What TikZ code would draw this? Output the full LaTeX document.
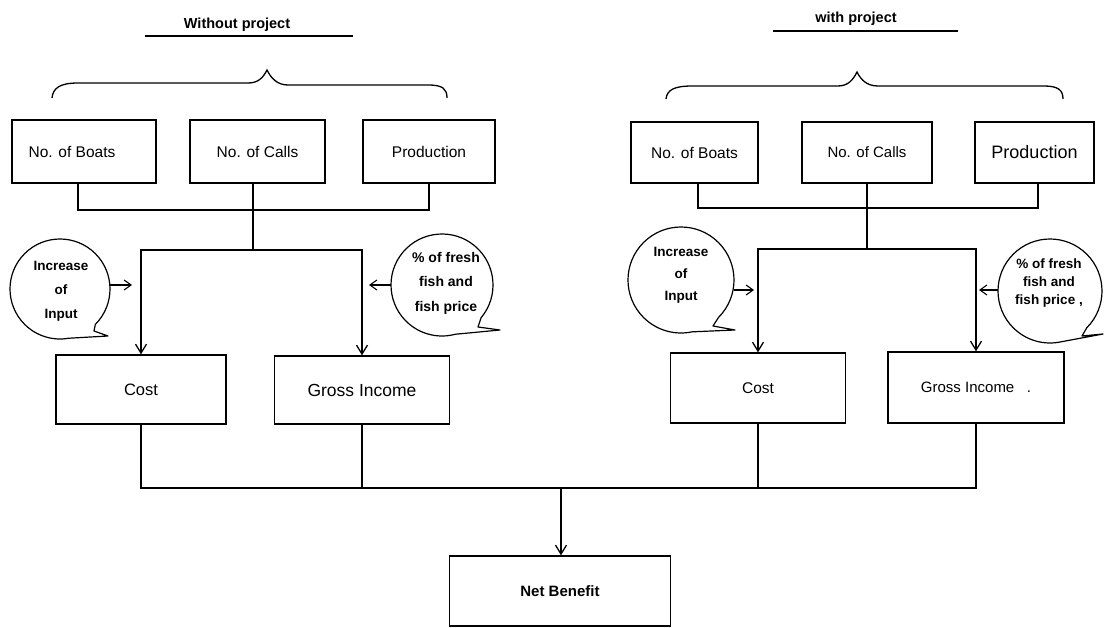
\documentclass[tikz,border=0pt]{standalone}
\usepackage{fontspec}
\setmainfont{Liberation Sans}
\usetikzlibrary{arrows.meta,calc}
\begin{document}
\begin{tikzpicture}[x=1pt,y=-1pt,
  box/.style n args={2}{draw, line width=1.3pt, inner sep=0pt, minimum width=#1pt, minimum height=#2pt, align=center},
  ln/.style={line width=1.3pt},
  arr/.style={line width=1.3pt, -{Straight Barb[length=9pt,width=11pt]}},
  sarr/.style={line width=1.1pt, -{Straight Barb[length=7pt,width=10pt]}},
  bub/.style={line width=1.2pt, line join=round},
  btxt/.style={align=center, inner sep=0pt, font=\bfseries\fontsize{13.5}{24}\selectfont},
  ttl/.style={inner sep=0pt, font=\bfseries\fontsize{14.5}{17}\selectfont}]
\useasboundingbox (0,0) rectangle (1104,628);
\fill[white] (0,0) rectangle (1104,628);

% ---------- titles ----------
\node[ttl] (tl) at (237,25) {Without project};
\draw[line width=1.1pt] (145,36) -- (353,36);
\node[ttl] (tr) at (856,19) {with project};
\draw[line width=1.1pt] (773,31) -- (958,31);

% ---------- braces ----------
\draw[line width=1.3pt] (52,98) .. controls (53,88) and (60,83) .. (78,83) -- (248,83)
  .. controls (258,83) and (263,78) .. (267,70) .. controls (271,78) and (277,85) .. (288,85)
  -- (428,85) .. controls (443,85) and (447,89) .. (447,98);
\draw[line width=1.3pt] (666,99) .. controls (667,90) and (674,86) .. (692,86) -- (838,86)
  .. controls (848,86) and (853,80) .. (857,72) .. controls (861,80) and (867,86) .. (878,86)
  -- (1044,86) .. controls (1058,86) and (1063,90) .. (1063,99);

% ---------- left (without project) ----------
\node[box={144}{63}, font=\fontsize{15.5}{18}\selectfont] (b1) at (84,151.5) {No. of Boats\hspace*{24pt}};
\node[box={135}{63}, font=\fontsize{15.5}{18}\selectfont] (b2) at (257.5,151.5) {No. of Calls};
\node[box={132}{63}, font=\fontsize{15.5}{18}\selectfont] (b3) at (429,151.5) {Production};
\node[box={170}{69}, font=\fontsize{16.5}{18}\selectfont] (c1) at (141,389.5) {Cost};
\node[box={175}{68}, font=\fontsize{17.5}{20}\selectfont] (g1) at (362,390) {Gross Income};

\coordinate (j1) at (253,210);
\coordinate (j2) at (253,250);
\draw[ln] ([xshift=-6pt]b1.south) |- (j1) -| (b3.south);
\draw[ln] ([xshift=-4.5pt]b2.south) -- (j2);
\draw[arr] (j2) -| (c1.north);
\draw[arr] (j2) -| (g1.north);

% bubble: Increase of Input (left)
\node[btxt] (i1) at (61,291) {Increase\\of\\Input};
\draw[bub] ($(60,289)+(45:50)$) arc[start angle=45, end angle=-280, radius=50] -- (108,336) -- (94,331) -- cycle;
\coordinate (s1) at (110,285);
\coordinate (t1) at (132,285);
\draw[sarr] (s1) -- (t1);

% bubble: % of fresh fish (left)
\node[btxt, font=\bfseries\fontsize{14}{24.5}\selectfont] (p1) at (446,283) {\% of fresh\\fish and\\fish price};
\draw[bub] ($(442,285)+(40:51)$) arc[start angle=40, end angle=-285, radius=51] -- (500,330) -- (478,327) -- cycle;
\coordinate (s2) at (391,285);
\coordinate (t2) at (369,285);
\draw[sarr] (s2) -- (t2);

% ---------- right (with project) ----------
\node[box={127}{61}, font=\fontsize{15.5}{18}\selectfont] (rb1) at (694.5,152.5) {No. of Boats};
\node[box={130}{61}, font=\fontsize{15}{18}\selectfont] (rb2) at (867,152.5) {No. of Calls};
\node[box={119}{61}, font=\fontsize{18}{20}\selectfont] (rb3) at (1034.5,152.5) {Production};
\node[box={175}{70}, font=\fontsize{15.5}{18}\selectfont] (c2) at (758,388) {Cost};
\node[box={176}{71}, font=\fontsize{15}{18}\selectfont] (g2) at (976,387.5) {Gross Income~~~.};

\coordinate (j4) at (867,208);
\coordinate (j5) at (867,249);
\draw[ln] ([xshift=3.5pt]rb1.south) |- (j4) -| ([xshift=3.5pt]rb3.south);
\draw[ln] (rb2.south) -- (j5);
\draw[arr] (j5) -| (c2.north);
\draw[arr] (j5) -| (g2.north);

% bubble: Increase of Input (right)
\node[btxt, font=\bfseries\fontsize{13.5}{22}\selectfont] (i2) at (681,275) {Increase\\of\\Input};
\draw[bub] ($(681,280)+(45:53)$) arc[start angle=45, end angle=-282, radius=53] -- (735,330) -- (713,326) -- cycle;
\coordinate (s3) at (734,290);
\coordinate (t3) at (754,290);
\draw[sarr] (s3) -- (t3);

% bubble: % of fresh fish (right)
\node[btxt, font=\bfseries\fontsize{13.5}{18}\selectfont] (p2) at (1049,283) {\% of fresh\\fish and\\fish price ,};
\draw[bub] ($(1050,291)+(45:52)$) arc[start angle=45, end angle=-282, radius=52] -- (1103,334) -- (1082,336) -- cycle;
\coordinate (s4) at (998,290);
\coordinate (t4) at (979,290);
\draw[sarr] (s4) -- (t4);

% ---------- net benefit ----------
\node[box={221}{70}, font=\bfseries\fontsize{15}{18}\selectfont] (nb) at (560,591) {Net Benefit};
\coordinate (j3) at (561,488);
\draw[ln] (c1.south) |- (j3) -| (g2.south);
\draw[ln] (g1.south) -- (g1.south |- j3);
\draw[ln] (c2.south) -- (c2.south |- j3);
\draw[arr] (j3) -- (j3 |- nb.north);
\end{tikzpicture}
\end{document}
